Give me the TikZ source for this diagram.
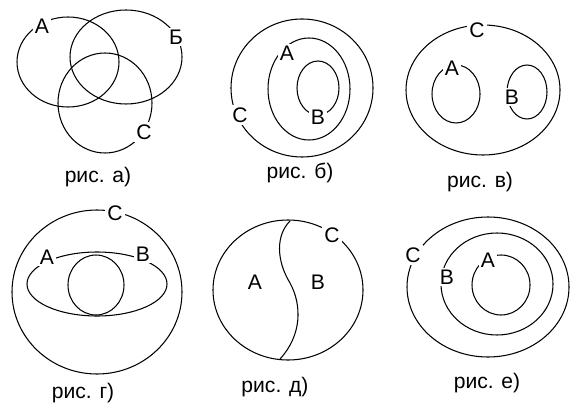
\documentclass[tikz,border=0pt]{standalone}
\usepackage{fontspec}
\setmainfont{Liberation Sans}
\usetikzlibrary{positioning}

\begin{document}
\begin{tikzpicture}[
  x=0.02cm, y=-0.02cm,
  line width=0.6pt,
  font=\fontsize{12}{14}\selectfont,
  lbl/.style={fill=white, inner sep=1.2pt},
  caption/.style={inner sep=1pt}
]
\useasboundingbox (0,0) rectangle (573,408);

% a)
\draw (68,62) ellipse [x radius=51, y radius=45];
\draw (126,57) ellipse [x radius=56, y radius=47];
\draw (105,103) ellipse [x radius=47, y radius=50];
\node[lbl] (a-A) at (42,26) {A};
\node[lbl] (a-B) at (176,37) {Б};
\node[lbl] (a-C) at (144,132) {C};
\node[caption] (cap-a) at (98,177) {рис. а)};

% b)
\draw (302,88) ellipse [x radius=71, y radius=69];
\draw (309,89) ellipse [x radius=41, y radius=51];
\draw (318,88) ellipse [x radius=21, y radius=27];
\node[lbl] (b-A) at (287,53) {A};
\node[lbl] (b-B) at (318,117) {B};
\node[lbl] (b-C) at (240,115) {C};
\node[caption] (cap-b) at (300,173) {рис. б)};

% c)
\draw (483,90) ellipse [x radius=77, y radius=65];
\draw (456,94) ellipse [x radius=24, y radius=29];
\draw (527,92) ellipse [x radius=20, y radius=27];
\node[lbl] (c-A) at (452,68) {A};
\node[lbl] (c-B) at (512,97) {B};
\node[lbl] (c-C) at (477,30) {C};
\node[caption] (cap-c) at (480,182) {рис. в)};

% d)
\draw (97,292) ellipse [x radius=85, y radius=82];
\draw (97,284) ellipse [x radius=70, y radius=32];
\draw (96,285) ellipse [x radius=28, y radius=30];
\node[lbl] (d-A) at (47,257) {A};
\node[lbl] (d-B) at (143,254) {B};
\node[lbl] (d-C) at (115,213) {C};
\node[caption] (cap-d) at (83,393) {рис. г)};

% e)
\draw (288,290) ellipse [x radius=75, y radius=70];
\draw (290,221) .. controls (276,235) and (276,260) .. (290,283)
  .. controls (302,305) and (302,335) .. (280,359);
\node (e-A) at (255,282) {A};
\node (e-B) at (318,282) {B};
\node[lbl] (e-C) at (332,235) {C};
\node[caption] (cap-e) at (275,387) {рис. д)};

% f)
\draw (488,287) ellipse [x radius=81, y radius=70];
\draw (497,284) ellipse [x radius=56, y radius=51];
\draw (501,285) ellipse [x radius=29, y radius=30];
\node[lbl] (f-A) at (488,260) {A};
\node[lbl] (f-B) at (447,277) {B};
\node[lbl] (f-C) at (413,255) {C};
\node[caption] (cap-f) at (487,383) {рис. е)};
\end{tikzpicture}
\end{document}
